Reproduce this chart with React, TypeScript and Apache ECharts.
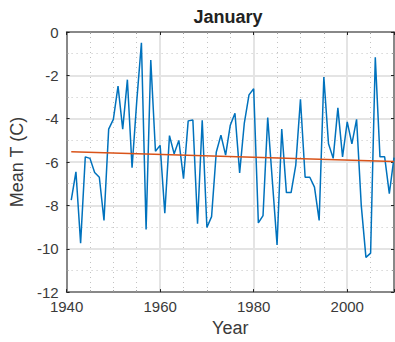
import React, { useEffect, useRef } from "react";
import * as echarts from "echarts";

// Mean January temperature per year (°C)
const years: number[] = [
  1941, 1942, 1943, 1944, 1945, 1946, 1947, 1948, 1949, 1950,
  1951, 1952, 1953, 1954, 1955, 1956, 1957, 1958, 1959, 1960,
  1961, 1962, 1963, 1964, 1965, 1966, 1967, 1968, 1969, 1970,
  1971, 1972, 1973, 1974, 1975, 1976, 1977, 1978, 1979, 1980,
  1981, 1982, 1983, 1984, 1985, 1986, 1987, 1988, 1989, 1990,
  1991, 1992, 1993, 1994, 1995, 1996, 1997, 1998, 1999, 2000,
  2001, 2002, 2003, 2004, 2005, 2006, 2007, 2008, 2009, 2010,
];
const meanTemps: number[] = [
  -7.76, -6.45, -9.74, -5.76, -5.83, -6.48, -6.7, -8.69, -4.48, -4.03,
  -2.5, -4.48, -2.2, -6.26, -3.2, -0.5, -9.11, -1.29, -5.5, -5.23,
  -8.36, -4.78, -5.62, -5.0, -6.77, -4.1, -4.06, -8.84, -4.07, -9.02,
  -8.52, -5.55, -4.76, -5.68, -4.3, -3.75, -6.5, -4.2, -2.9, -2.62,
  -8.81, -8.47, -3.95, -6.9, -9.82, -4.48, -7.41, -7.41, -6.14, -3.1,
  -6.7, -6.7, -7.16, -8.69, -2.08, -5.16, -5.83, -3.5, -5.76, -4.15,
  -5.16, -4.03, -8.0, -10.4, -10.2, -1.17, -5.76, -5.76, -7.46, -5.8,
];

// Linear trend endpoints
const trendYears: number[] = [1941, 2010];
const trendTemps: number[] = [-5.53, -5.98];

// Axis ranges
const xRange: number[] = [1940, 2010];
const yRange: number[] = [-12, 0];

const FONT = "Liberation Sans, Arial, Helvetica, sans-serif";
const TEXT = "#3a3a3a";
const FRAME = "#6a6a6a";
const GRID = "#e4e4e4";
const MINOR = "#c2c2c2";

function axisCommon(show: boolean) {
  return {
    axisLine: { show: true, onZero: false, lineStyle: { color: FRAME, width: 1.5 } },
    axisTick: { show: true, inside: true, length: 3, lineStyle: { color: "#222", width: 1 } },
    splitLine: { show, lineStyle: { color: GRID, width: 2 } },
    minorSplitLine: {
      show,
      lineStyle: { color: MINOR, width: 1, type: [1, 4] as any },
    },
  };
}

export default function App() {
  const ref = useRef<HTMLDivElement>(null);

  useEffect(() => {
    if (!ref.current) return;
    const chart = echarts.init(ref.current, undefined, { renderer: "svg" });

    const tempData = years.map((y, i) => [y, meanTemps[i]]);
    const trendData = trendYears.map((y, i) => [y, trendTemps[i]]);

    chart.setOption({
      animation: false,
      textStyle: { fontFamily: FONT },
      grid: { left: 63, top: 32, width: 331, height: 266, containLabel: false },
      graphic: [
        {
          type: "text",
          x: 228,
          y: 17,
          style: {
            text: "January",
            font: `bold 18px ${FONT}`,
            fill: "#222",
            textAlign: "center",
            textVerticalAlign: "middle",
          },
        },
      ],
      xAxis: [
        {
          type: "value",
          position: "bottom",
          min: xRange[0],
          max: xRange[1],
          interval: 20,
          name: "Year",
          nameLocation: "middle",
          nameGap: 20,
          nameTextStyle: { fontSize: 18, color: TEXT, fontFamily: FONT },
          axisLabel: {
            fontSize: 15,
            lineHeight: 15,
            color: TEXT,
            margin: 7,
            showMaxLabel: false,
            fontFamily: FONT,
            formatter: (v: number) => String(v),
          },
          ...axisCommon(true),
          minorTick: { show: true, splitNumber: 4, length: 2, lineStyle: { color: "#999" } },
        },
        {
          type: "value",
          position: "top",
          min: xRange[0],
          max: xRange[1],
          interval: 20,
          axisLabel: { show: false },
          ...axisCommon(false),
          minorTick: { show: true, splitNumber: 4, length: 2, lineStyle: { color: "#999" } },
        },
      ],
      yAxis: [
        {
          type: "value",
          position: "left",
          min: yRange[0],
          max: yRange[1],
          interval: 2,
          name: "Mean T (C)",
          nameLocation: "middle",
          nameGap: 33,
          nameTextStyle: { fontSize: 18, color: TEXT, fontFamily: FONT },
          axisLabel: {
            fontSize: 15,
            lineHeight: 14,
            color: TEXT,
            margin: 8,
            fontFamily: FONT,
            formatter: (v: number) => String(v),
          },
          ...axisCommon(true),
          minorTick: { show: true, splitNumber: 2, length: 2, lineStyle: { color: "#999" } },
        },
        {
          type: "value",
          position: "right",
          min: yRange[0],
          max: yRange[1],
          interval: 2,
          axisLabel: { show: false },
          ...axisCommon(false),
          minorTick: { show: true, splitNumber: 2, length: 2, lineStyle: { color: "#999" } },
        },
      ],
      series: [
        {
          name: "Mean T",
          type: "line",
          data: tempData,
          showSymbol: false,
          symbol: "none",
          lineStyle: { color: "#0072BD", width: 1.5 },
          itemStyle: { color: "#0072BD" },
          z: 3,
        },
        {
          name: "Trend",
          type: "line",
          data: trendData,
          showSymbol: false,
          symbol: "none",
          lineStyle: { color: "#D95319", width: 1.5 },
          itemStyle: { color: "#D95319" },
          z: 4,
        },
      ],
    });

    return () => chart.dispose();
  }, []);

  return (
    <div
      ref={ref}
      style={{ position: "fixed", left: 0, top: 0, width: 395, height: 342, background: "#fff" }}
    />
  );
}
